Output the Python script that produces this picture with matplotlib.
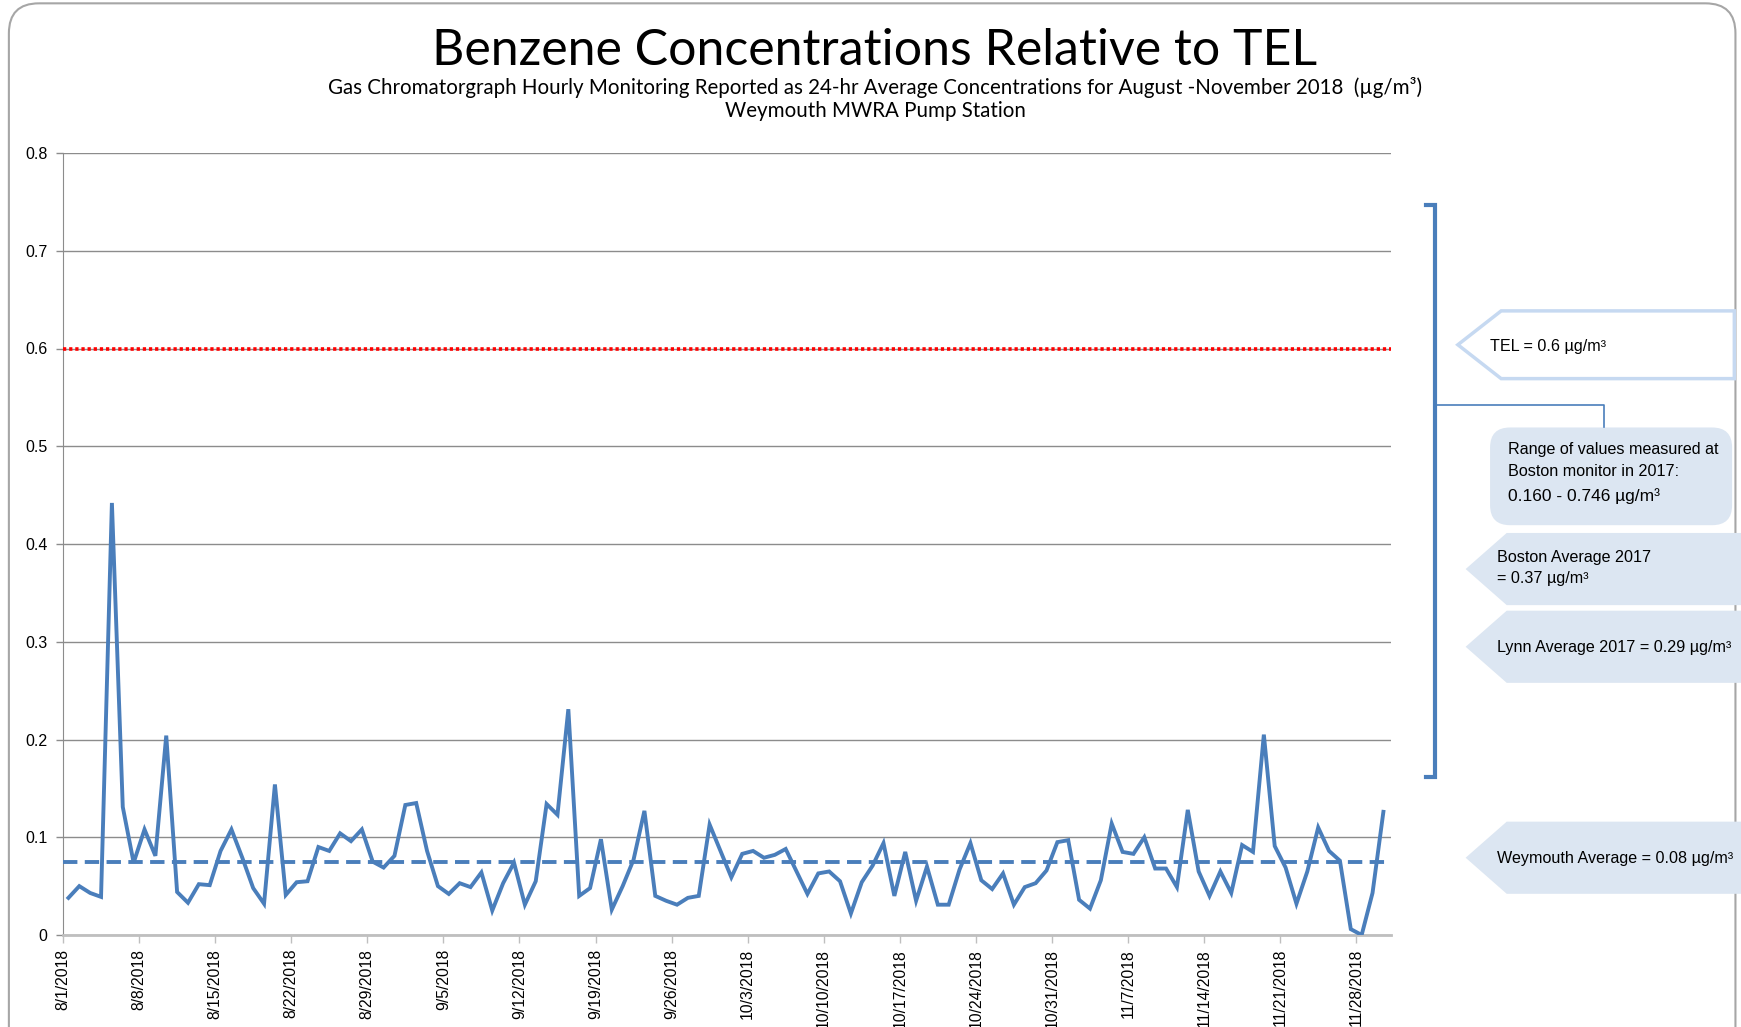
import matplotlib
matplotlib.use('Agg')
import matplotlib.pyplot as plt
from matplotlib.patches import Polygon, FancyBboxPatch

W, H = 1741, 1027
S = W / 1568.0  # layout was measured on the 1568 px wide preview

# daily 24-hr average benzene, 8/1/2018 .. 11/30/2018 (ug/m3)
benzene = [0.038, 0.050, 0.043, 0.039, 0.442, 0.131, 0.074, 0.108, 0.081, 0.204,
           0.044, 0.033, 0.052, 0.051, 0.086, 0.108, 0.079, 0.048, 0.032, 0.154,
           0.041, 0.054, 0.055, 0.090, 0.086, 0.104, 0.096, 0.108, 0.075, 0.069,
           0.081, 0.133, 0.135, 0.086, 0.050,
           0.042, 0.053, 0.049, 0.064, 0.025, 0.053, 0.074, 0.031, 0.055, 0.134,
           0.123, 0.231, 0.040, 0.048, 0.098, 0.026, 0.050, 0.077, 0.127, 0.040,
           0.035, 0.031, 0.038, 0.040, 0.113, 0.086, 0.059, 0.083, 0.086, 0.079,
           0.082, 0.088, 0.065, 0.042, 0.063,
           0.065, 0.055, 0.022, 0.054, 0.071, 0.094, 0.040, 0.085, 0.035, 0.070,
           0.031, 0.031, 0.067, 0.094, 0.056, 0.047, 0.063, 0.031, 0.049, 0.053,
           0.066, 0.095, 0.097, 0.036, 0.027, 0.056, 0.114, 0.085, 0.083, 0.100,
           0.068, 0.068, 0.049, 0.128, 0.065,
           0.040, 0.065, 0.043, 0.092, 0.085, 0.205, 0.091, 0.069, 0.032, 0.065,
           0.110, 0.086, 0.076, 0.006, 0.000, 0.043, 0.126]
weymouth_avg = 0.075
tel = 0.6

date_labels = ['8/1/2018', '8/8/2018', '8/15/2018', '8/22/2018', '8/29/2018',
               '9/5/2018', '9/12/2018', '9/19/2018', '9/26/2018', '10/3/2018',
               '10/10/2018', '10/17/2018', '10/24/2018', '10/31/2018', '11/7/2018',
               '11/14/2018', '11/21/2018', '11/28/2018']
y_ticks = [0, 0.1, 0.2, 0.3, 0.4, 0.5, 0.6, 0.7, 0.8]
y_labels = ['0', '0.1', '0.2', '0.3', '0.4', '0.5', '0.6', '0.7', '0.8']

blue = '#4A7EBB'
grid = '#8C8C8C'

fig = plt.figure(figsize=(W / 100, H / 100), dpi=100)
fig.patch.set_facecolor('white')

# plot area in pixels: left 63, right 1391, top 153, bottom 935
ax = fig.add_axes([63 / W, 1 - 935 / H, (1391 - 63) / W, (935 - 153) / H])
days = [i + 0.5 for i in range(len(benzene))]
ax.plot(days, benzene, color=blue, lw=2.8, solid_joinstyle='miter', zorder=4)
ax.axhline(weymouth_avg, color=blue, lw=2.8, ls=(0, (3.7, 1.9)), zorder=3)
ax.axhline(tel, color='#FF0000', lw=2.6, ls=(0, (0.9, 0.8)), zorder=3)

ax.set_xlim(0, 122.2)
ax.set_ylim(0, 0.8)
ax.set_yticks(y_ticks)
ax.set_yticklabels(y_labels, fontsize=11.5, family='Liberation Sans')
ax.set_xticks([7 * i for i in range(len(date_labels))])
ax.set_xticklabels(date_labels, rotation=90, fontsize=11.3,
                   family='Liberation Sans', ha='center', va='top')
ax.grid(axis='y', color=grid, lw=1)
ax.set_axisbelow(True)
for side in ['top', 'right']:
    ax.spines[side].set_visible(False)
ax.spines['left'].set_color(grid)
ax.spines['bottom'].set_color('#BFBFBF')
ax.spines['bottom'].set_linewidth(2)
ax.tick_params(axis='x', color='#BFBFBF', length=6, width=1, pad=4)
ax.tick_params(axis='y', color=grid, length=5, width=1, pad=6)

# titles
fig.text(875 / W, 1 - 51 / H, 'Benzene Concentrations Relative to TEL',
         ha='center', va='center', fontsize=36, family='Lato')
fig.text(875 / W, 1 - 87 / H,
         'Gas Chromatorgraph Hourly Monitoring Reported as 24-hr Average '
         'Concentrations for August -November 2018  (\u00b5g/m\u00b3)',
         ha='center', va='center', fontsize=14.8, family='Lato')
fig.text(875 / W, 1 - 111 / H, 'Weymouth MWRA Pump Station',
         ha='center', va='center', fontsize=14.8, family='Lato')

# overlay in pixel coordinates for the annotations on the right
ov = fig.add_axes([0, 0, 1, 1], zorder=5)
ov.set_xlim(0, W)
ov.set_ylim(H, 0)
ov.axis('off')
ov.patch.set_alpha(0)

# outer rounded frame
ov.add_patch(FancyBboxPatch((8 * S, 3 * S), (1563 - 8) * S, 1100,
                            boxstyle='round,pad=0,rounding_size=30',
                            fc='none', ec='#A6A6A6', lw=1.5))

# bracket
bx = 1292 * S
ov.plot([bx - 8 * S, bx, bx, bx - 8 * S], [185 * S, 185 * S, 700 * S, 700 * S],
        color=blue, lw=3, solid_joinstyle='miter')
ov.plot([bx, 1445 * S, 1445 * S], [365 * S, 365 * S, 385 * S], color=blue, lw=1.2)


def arrow_box(tip, left, right, top, bottom, fc, ec, lw):
    pts = [(tip * S, (top + bottom) / 2 * S), (left * S, top * S),
           (right * S, top * S), (right * S, bottom * S), (left * S, bottom * S)]
    ov.add_patch(Polygon(pts, closed=True, fc=fc, ec=ec, lw=lw))


box_fill = '#DCE6F2'
arrow_box(1313, 1352, 1562, 280, 341, 'white', '#C6D9F1', 2.5)
arrow_box(1320, 1357, 1568, 480, 545, box_fill, 'none', 0)
arrow_box(1320, 1357, 1568, 550, 615, box_fill, 'none', 0)
arrow_box(1320, 1357, 1568, 740, 805, box_fill, 'none', 0)
ov.add_patch(FancyBboxPatch((1342 * S, 385 * S), 218 * S, 88 * S,
                            boxstyle='round,pad=0,rounding_size=20',
                            fc=box_fill, ec='none'))

ann = dict(ha='left', va='center', family='Liberation Sans', fontsize=11.6)
ov.text(1342 * S, 312 * S, 'TEL = 0.6 \u00b5g/m\u00b3', **ann)
ov.text(1358 * S, 405 * S, 'Range of values measured at', **ann)
ov.text(1358 * S, 425 * S, 'Boston monitor in 2017:', **ann)
ov.text(1358 * S, 447 * S, '0.160 - 0.746 \u00b5g/m\u00b3', ha='left', va='center',
        family='Liberation Sans', fontsize=12.5)
ov.text(1348 * S, 502 * S, 'Boston Average 2017', **ann)
ov.text(1348 * S, 521 * S, '= 0.37 \u00b5g/m\u00b3', **ann)
ov.text(1348 * S, 583 * S, 'Lynn Average 2017 = 0.29 \u00b5g/m\u00b3', **ann)
ov.text(1348 * S, 773 * S, 'Weymouth Average = 0.08 \u00b5g/m\u00b3', **ann)

fig.savefig('out.png', dpi=100)
